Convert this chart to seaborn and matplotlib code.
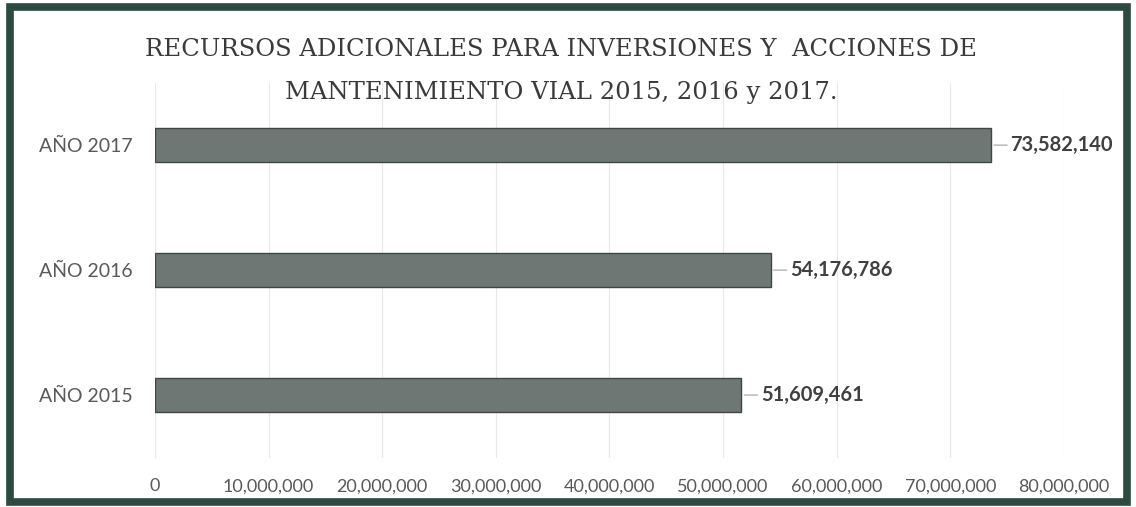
import matplotlib
matplotlib.use("Agg")
import matplotlib.pyplot as plt
from matplotlib.patches import Rectangle
from matplotlib.ticker import FuncFormatter
import pandas as pd
import seaborn as sns

# Data
years = ["AÑO 2017", "AÑO 2016", "AÑO 2015"]
amounts = [73582140, 54176786, 51609461]
x_ticks = [0, 10000000, 20000000, 30000000, 40000000, 50000000, 60000000, 70000000, 80000000]

title_lines = ["RECURSOS ADICIONALES PARA INVERSIONES Y  ACCIONES DE",
               "MANTENIMIENTO VIAL 2015, 2016 y 2017."]

df = pd.DataFrame({"year": years, "amount": amounts})

sns.set_theme(style="white")
plt.rcParams["font.family"] = ["Lato", "DejaVu Sans"]

fig = plt.figure(figsize=(11.36, 5.07), dpi=100)
ax = fig.add_axes([0.1364, 0.0976, 0.8002, 0.7394])

sns.barplot(data=df, x="amount", y="year", order=years, orient="h",
            color="#6f7774", edgecolor="#3f4643", linewidth=1.0,
            width=0.27, saturation=1, ax=ax)

ax.set_xlim(0, 80000000)
ax.set_xticks(x_ticks)
ax.xaxis.set_major_formatter(FuncFormatter(lambda v, p: f"{int(v):,}"))
ax.grid(axis="x", color="#e8e8e8", linewidth=0.8)
ax.set_axisbelow(True)
ax.set_xlabel("")
ax.set_ylabel("")
for s in ax.spines.values():
    s.set_visible(False)
ax.tick_params(axis="x", length=0, pad=15, labelsize=13, labelcolor="#595959")
ax.tick_params(axis="y", length=0, pad=16, labelsize=14, labelcolor="#595959")

# value labels with short leader line
for i, v in enumerate(amounts):
    ax.annotate(f"{v:,}", xy=(v, i), xytext=(14, 0), textcoords="offset points",
                va="center", ha="left", fontsize=14.5, fontweight="bold",
                color="#404040",
                arrowprops=dict(arrowstyle="-", color="#a0a0a0", lw=0.8,
                                shrinkA=0, shrinkB=2))

fig.text(0.494, 0.902, title_lines[0], ha="center", va="center",
         fontsize=17.5, color="#3a3a3a", family="DejaVu Serif")
fig.text(0.494, 0.818, title_lines[1], ha="center", va="center",
         fontsize=17.5, color="#3a3a3a", family="DejaVu Serif")

# dark green frame around the chart
fig.patches.append(Rectangle((9.5 / 1136, 5 / 507), 1117 / 1136, 495 / 507,
                             transform=fig.transFigure, fill=False,
                             edgecolor="#2c4a3f", linewidth=5.5))

fig.savefig("out.png", dpi=100)
